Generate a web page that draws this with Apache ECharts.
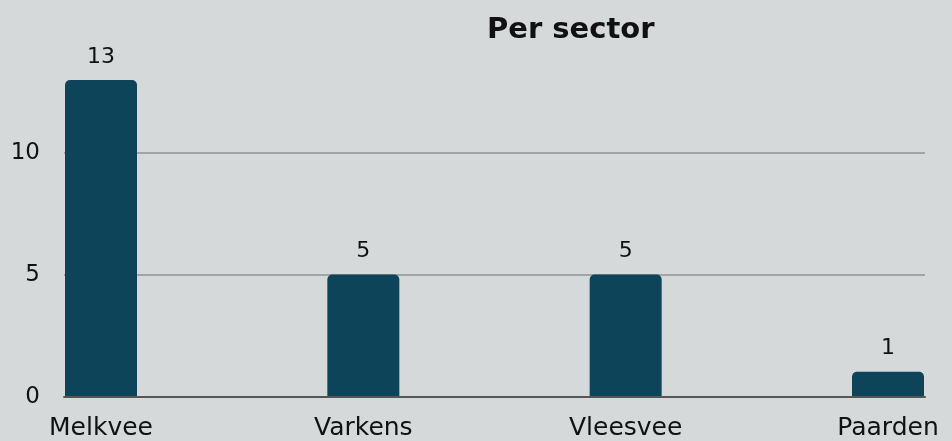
<!DOCTYPE html>
<html>
<head>
<meta charset="utf-8">
<script src="https://cdn.jsdelivr.net/npm/echarts@6/dist/echarts.min.js"></script>
<style>
  html, body { margin: 0; padding: 0; background: #d5d9da; }
  #chart { width: 952px; height: 441px; }
</style>
</head>
<body>
<div id="chart"></div>
<script>
// Chart data
const sectors = ['Melkvee', 'Varkens', 'Vleesvee', 'Paarden'];
const counts = [13, 5, 5, 1];
const yMax = 13;
const yStep = 5;

const fontFamily = '"DejaVu Sans", "Noto Sans", sans-serif';
const textColor = '#111111';

const chart = echarts.init(document.getElementById('chart'));

// Two grids: the outer one carries the gridlines and axis line,
// the inner one places the bars so they sit flush with the outer edges
const option = {
    backgroundColor: '#d5d9da',
    animation: false,
    title: {
        text: 'Per sector',
        left: 482,
        top: 11,
        textStyle: {
            fontFamily: fontFamily,
            fontSize: 29,
            fontWeight: 'bold',
            color: textColor
        }
    },
    grid: [
        { left: 64, right: 27, top: 80, bottom: 44 },
        { left: 101, right: 64, top: 80, bottom: 44 }
    ],
    xAxis: [
        {
            gridIndex: 0,
            type: 'value',
            min: 0,
            max: 1,
            axisLine: { show: true, lineStyle: { color: '#555555', width: 2 } },
            axisTick: { show: false },
            axisLabel: { show: false },
            splitLine: { show: false }
        },
        {
            gridIndex: 1,
            type: 'category',
            data: sectors,
            boundaryGap: false,
            axisLine: { show: false },
            axisTick: { show: false },
            axisLabel: {
                margin: 20,
                fontFamily: fontFamily,
                fontSize: 25,
                color: textColor
            }
        }
    ],
    yAxis: [
        {
            gridIndex: 0,
            type: 'value',
            min: 0,
            max: yMax,
            interval: yStep,
            axisLine: { show: false },
            axisTick: { show: false },
            axisLabel: {
                margin: 24,
                showMaxLabel: false,
                fontFamily: fontFamily,
                fontSize: 23,
                color: textColor
            },
            splitLine: {
                show: true,
                showMinLine: false,
                showMaxLine: false,
                lineStyle: { color: '#a2a4a5', width: 2 }
            }
        },
        {
            gridIndex: 1,
            type: 'value',
            min: 0,
            max: yMax,
            show: false
        }
    ],
    series: [
        {
            type: 'bar',
            xAxisIndex: 1,
            yAxisIndex: 1,
            data: counts,
            barWidth: 72,
            itemStyle: {
                color: '#0e4459',
                borderRadius: [5, 5, 0, 0]
            },
            label: {
                show: true,
                position: 'top',
                distance: 12,
                fontFamily: fontFamily,
                fontSize: 22,
                color: textColor
            }
        }
    ]
};

chart.setOption(option);
</script>
</body>
</html>
